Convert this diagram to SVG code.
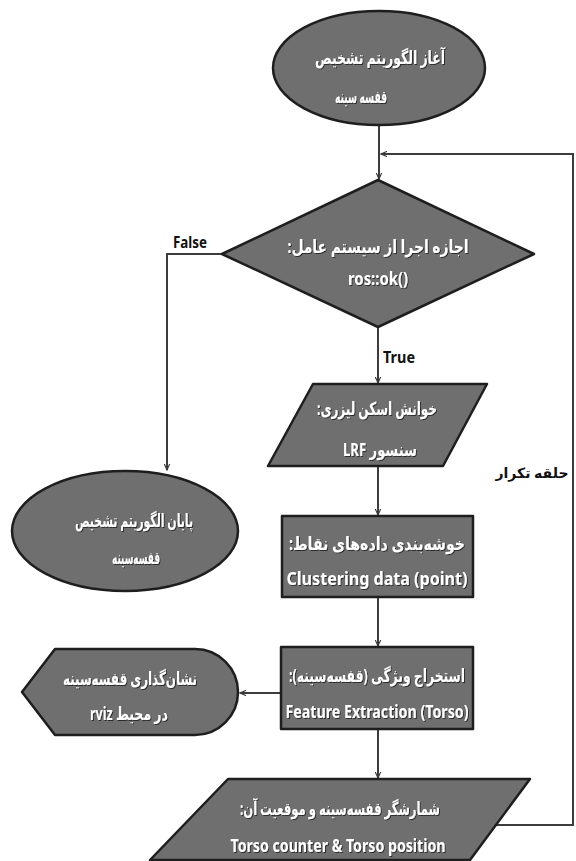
<svg xmlns="http://www.w3.org/2000/svg" width="576" height="861" viewBox="0 0 576 861">
  <defs>
    <style>
      .shape { fill: #6f6f6f; stroke: #1e1e1e; stroke-width: 2.5; stroke-linejoin: round; }
      .lbl { fill: #ffffff; font-family: "Noto Sans", "DejaVu Sans", sans-serif; font-weight: bold; font-size: 17px; text-anchor: middle; dominant-baseline: central; filter: url(#txtShadow); }
      .fa { direction: rtl; unicode-bidi: embed; font-size: 18px; }
      .edge { fill: none; stroke: #3c3c3c; stroke-width: 2; }
      .tag { fill: #111111; font-family: "Noto Sans", "DejaVu Sans", sans-serif; font-weight: bold; font-size: 16px; text-anchor: middle; dominant-baseline: central; }
      .loop { font-size: 14px; }
    </style>
    <marker id="arrow" viewBox="0 0 10 10" refX="9" refY="5" markerWidth="7" markerHeight="7" orient="auto" markerUnits="userSpaceOnUse">
      <path d="M0,1 L9,5 L0,9" fill="none" stroke="#3c3c3c" stroke-width="1.6"/>
    </marker>
    <filter id="txtShadow" x="-10%" y="-30%" width="120%" height="160%">
      <feDropShadow dx="1" dy="1" stdDeviation="0.6" flood-color="#000" flood-opacity="0.6"/>
    </filter>
  </defs>

  <!-- connectors -->
  <g id="connectors">
    <line class="edge" x1="379" y1="125" x2="379" y2="179" marker-end="url(#arrow)"/>
    <polyline class="edge" points="486,825 573,825 573,154 381,154" marker-end="url(#arrow)"/>
    <polyline class="edge" points="222,254 167,254 167,470" marker-end="url(#arrow)"/>
    <line class="edge" x1="378" y1="327" x2="378" y2="383" marker-end="url(#arrow)"/>
    <line class="edge" x1="378" y1="466" x2="378" y2="515" marker-end="url(#arrow)"/>
    <line class="edge" x1="378" y1="597" x2="378" y2="646" marker-end="url(#arrow)"/>
    <line class="edge" x1="281" y1="693" x2="240" y2="693" marker-end="url(#arrow)"/>
    <line class="edge" x1="378" y1="729" x2="378" y2="778" marker-end="url(#arrow)"/>
    <text class="tag" x="190" y="242" textLength="34" lengthAdjust="spacingAndGlyphs">False</text>
    <text class="tag" x="399" y="357" textLength="32" lengthAdjust="spacingAndGlyphs">True</text>
    <text class="tag fa loop" x="532" y="472">حلقه تکرار</text>
  </g>

  <!-- start terminal -->
  <g id="start">
    <ellipse class="shape" cx="379" cy="68" rx="106" ry="57"/>
    <text class="lbl fa" x="380" y="57" textLength="130" lengthAdjust="spacingAndGlyphs">آغاز الگوریتم تشخیص</text>
    <text class="lbl fa" x="361" y="96" textLength="52" lengthAdjust="spacingAndGlyphs">قفسه سینه</text>
  </g>

  <!-- ros::ok() decision -->
  <g id="decision">
    <polygon class="shape" points="378,180 534,254 378,327 222,254"/>
    <text class="lbl fa" x="378" y="246" textLength="181" lengthAdjust="spacingAndGlyphs">اجازه اجرا از سیستم عامل:</text>
    <text class="lbl" x="378" y="278" textLength="60" lengthAdjust="spacingAndGlyphs">ros::ok()</text>
  </g>

  <!-- laser scan input -->
  <g id="laser-scan">
    <polygon class="shape" points="313,384 487,384 443,466 268,466"/>
    <text class="lbl fa" x="377" y="408" textLength="120" lengthAdjust="spacingAndGlyphs">خوانش اسکن لیزری:</text>
    <text class="lbl fa" x="380" y="449" textLength="74" lengthAdjust="spacingAndGlyphs">سنسور LRF</text>
  </g>

  <!-- end terminal -->
  <g id="end">
    <ellipse class="shape" cx="125" cy="531" rx="113" ry="60"/>
    <text class="lbl fa" x="134" y="520" textLength="118" lengthAdjust="spacingAndGlyphs">پایان الگوریتم تشخیص</text>
    <text class="lbl fa" x="136" y="557" textLength="48" lengthAdjust="spacingAndGlyphs">قفسه‌سینه</text>
  </g>

  <!-- clustering -->
  <g id="clustering">
    <rect class="shape" x="282" y="516" width="191" height="81"/>
    <text class="lbl fa" x="377" y="543" textLength="176" lengthAdjust="spacingAndGlyphs">خوشه‌بندی داده‌های نقاط:</text>
    <text class="lbl" x="377" y="578" textLength="181" lengthAdjust="spacingAndGlyphs">Clustering data (point)</text>
  </g>

  <!-- feature extraction -->
  <g id="feature-extraction">
    <rect class="shape" x="281" y="647" width="192" height="82"/>
    <text class="lbl fa" x="377" y="675" textLength="176" lengthAdjust="spacingAndGlyphs">استخراج ویژگی (قفسه‌سینه):</text>
    <text class="lbl" x="377" y="711" textLength="183" lengthAdjust="spacingAndGlyphs">Feature Extraction (Torso)</text>
  </g>

  <!-- rviz display -->
  <g id="rviz-display">
    <path class="shape" d="M22,692 L55,649 L195,649 A43,43 0 0 1 195,735 L55,735 Z"/>
    <text class="lbl fa" x="130" y="678" textLength="134" lengthAdjust="spacingAndGlyphs">نشان‌گذاری قفسه‌سینه</text>
    <text class="lbl fa" x="129" y="713" textLength="78" lengthAdjust="spacingAndGlyphs">در محیط rviz</text>
  </g>

  <!-- torso counter output -->
  <g id="torso-counter">
    <polygon class="shape" points="228,779 530,779 470,860 150,860"/>
    <text class="lbl fa" x="340" y="808" textLength="200" lengthAdjust="spacingAndGlyphs">شمارشگر قفسه‌سینه و موقعیت آن:</text>
    <text class="lbl" x="338" y="845" textLength="215" lengthAdjust="spacingAndGlyphs">Torso counter &amp; Torso position</text>
  </g>
</svg>
